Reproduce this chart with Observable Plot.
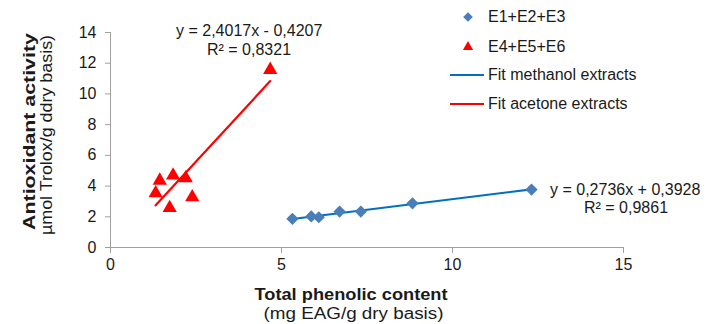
<!DOCTYPE html>
<html>
<head>
<meta charset="utf-8">
<script src="https://cdn.jsdelivr.net/npm/d3@7"></script>
<script src="https://cdn.jsdelivr.net/npm/@observablehq/plot@0.6"></script>
<style>
  html, body { margin: 0; padding: 0; background: #fff; }
  #wrap { position: relative; width: 707px; height: 324px; font-family: "Liberation Sans", Arial, sans-serif; color: #1a1a1a; }
  .abs { position: absolute; white-space: nowrap; line-height: 1; }
  .leg { position: absolute; font-size: 16px; white-space: nowrap; line-height: 1; transform: translateY(-50%); }
</style>
</head>
<body>
<div id="wrap"></div>
<script>
// ---- data ----
const methanolX = [5.32, 5.87, 6.09, 6.70, 7.32, 8.83, 12.31];
const methanolY = [1.87, 2.02, 1.97, 2.34, 2.34, 2.88, 3.77];
const acetoneX = [1.32, 1.44, 1.73, 1.83, 2.20, 2.39, 4.67];
const acetoneY = [3.54, 4.36, 2.58, 4.69, 4.51, 3.28, 11.57];
const seriesNames = ["E1+E2+E3", "E4+E5+E6"];
const fitNames = ["Fit methanol extracts", "Fit acetone extracts"];
const equationMethanol = ["y = 0,2736x + 0,3928", "R² = 0,9861"];
const equationAcetone = ["y = 2,4017x - 0,4207", "R² = 0,8321"];
const xTicks = [0, 5, 10, 15];
const yTicks = [0, 2, 4, 6, 8, 10, 12, 14];
const xTitle = ["Total phenolic content", "(mg EAG/g dry basis)"];
const yTitle = ["Antioxidant activity", "µmol Trolox/g ddry basis)"];

const methanol = methanolX.map((x, i) => ({x, y: methanolY[i]}));
const acetone = acetoneX.map((x, i) => ({x, y: acetoneY[i]}));

const blue = "#4a7ebb", blueLine = "#0070c0", red = "#ff0000", axisGray = "#a0a0a0";

const chart = Plot.plot({
  width: 707,
  height: 324,
  marginLeft: 110,
  marginRight: 84,
  marginTop: 32,
  marginBottom: 77,
  style: {fontFamily: "'Liberation Sans', Arial, sans-serif", fontSize: "16px", color: "#1a1a1a", background: "#fff"},
  x: {domain: [0, 15], ticks: xTicks, label: null},
  y: {domain: [0, 14], ticks: yTicks, label: null},
  marks: [
    Plot.ruleX([0], {stroke: axisGray}),
    Plot.ruleY([0], {stroke: axisGray}),
    Plot.axisX({ticks: xTicks, tickSize: 6, tickPadding: 5, stroke: axisGray, fontSize: 16, label: null, fill: "#1a1a1a"}),
    Plot.axisY({ticks: yTicks, tickSize: 5, tickPadding: 9, stroke: axisGray, fontSize: 16, label: null, fill: "#1a1a1a"}),
    Plot.linearRegressionY(methanol, {x: "x", y: "y", stroke: blueLine, strokeWidth: 2.2, ci: 0}),
    Plot.linearRegressionY(acetone, {x: "x", y: "y", stroke: red, strokeWidth: 2.2, ci: 0}),
    Plot.dot(methanol, {x: "x", y: "y", symbol: "diamond2", r: 5.5, fill: blue, stroke: "none"}),
    Plot.dot(acetone, {x: "x", y: "y", symbol: "triangle2", r: 6.8, fill: red, stroke: "none"})
  ]
});

const wrap = document.getElementById("wrap");
wrap.appendChild(chart);

function addText(text, cx, cy, style, targetWidth, rotate) {
  const d = document.createElement("div");
  d.className = "abs";
  d.textContent = text;
  Object.assign(d.style, style || {});
  d.style.left = "0px";
  d.style.top = "0px";
  wrap.appendChild(d);
  const w = d.offsetWidth, h = d.offsetHeight;
  const sx = targetWidth ? targetWidth / w : 1;
  d.style.left = (cx - w / 2) + "px";
  d.style.top = (cy - h / 2) + "px";
  d.style.transformOrigin = "50% 50%";
  d.style.transform = (rotate ? "rotate(-90deg) " : "") + `scaleX(${sx})`;
  return d;
}

// equations
addText(equationAcetone[0], 249, 31, {fontSize: "16px"});
addText(equationAcetone[1], 249, 50, {fontSize: "16px"});
addText(equationMethanol[0], 625, 190, {fontSize: "16px"});
addText(equationMethanol[1], 626, 208, {fontSize: "16px"});

// axis titles
addText(xTitle[0], 351, 294, {fontSize: "17px", fontWeight: "bold"}, 193);
addText(xTitle[1], 353, 314, {fontSize: "16px"}, 180);
addText(yTitle[0], 29, 131, {fontSize: "17px", fontWeight: "bold"}, 197, true);
addText(yTitle[1], 46, 135, {fontSize: "16px"}, 200, true);

// legend
const legendRows = [
  {label: seriesNames[0], y: 17, kind: "diamond", color: blue},
  {label: seriesNames[1], y: 47, kind: "triangle", color: red},
  {label: fitNames[0], y: 75, kind: "line", color: blueLine},
  {label: fitNames[1], y: 104, kind: "line", color: red}
];
const ns = "http://www.w3.org/2000/svg";
const lsvg = document.createElementNS(ns, "svg");
lsvg.setAttribute("width", 707);
lsvg.setAttribute("height", 324);
lsvg.style.position = "absolute";
lsvg.style.left = "0px";
lsvg.style.top = "0px";
lsvg.style.pointerEvents = "none";
wrap.appendChild(lsvg);
legendRows.forEach(r => {
  if (r.kind === "line") {
    const l = document.createElementNS(ns, "line");
    l.setAttribute("x1", 450); l.setAttribute("x2", 484);
    l.setAttribute("y1", r.y); l.setAttribute("y2", r.y);
    l.setAttribute("stroke", r.color); l.setAttribute("stroke-width", 2.2);
    lsvg.appendChild(l);
  } else {
    const p = document.createElementNS(ns, "path");
    const sym = r.kind === "diamond" ? d3.symbolDiamond2 : d3.symbolTriangle2;
    p.setAttribute("d", d3.symbol(sym, r.kind === "diamond" ? 60 : 75)());
    p.setAttribute("transform", `translate(468,${r.y})`);
    p.setAttribute("fill", r.color);
    lsvg.appendChild(p);
  }
  const d = document.createElement("div");
  d.className = "leg";
  d.textContent = r.label;
  d.style.left = "488px";
  d.style.top = r.y + "px";
  wrap.appendChild(d);
});
</script>
</body>
</html>
